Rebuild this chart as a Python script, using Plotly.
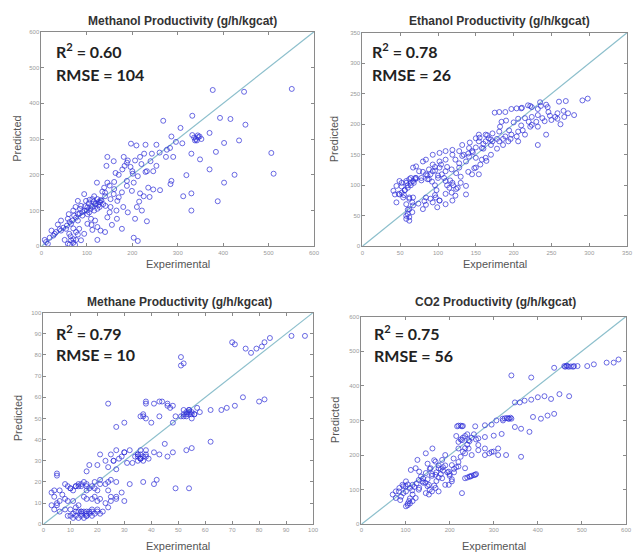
import plotly.graph_objects as go

# ---------------- data ----------------
meoh_exp = [377,446,551,332,393,416,449,306,268,332,348,370,286,253,229,197,209,145,143,384,435,402,349,370,330,506,511,425,402,319,283,290,274,253,232,246,229,188,183,163,188,203,235,246,261,286,284,330,312,388,330,238,217,210,221,232,206,166,177,203,212,123,94,122,145,130,134,159,170,152,145,101,101,112,123,130,80,65,61,65,51,58,36,22,7,14,43,80,87,101,98,112,123,129,138,80,90,72,83,94,87,43,29,58,54,80,76,109,116,123,109,141,152,167,177,199,188,201,196,206,226,243,217,181,159,340,345,338,120,125,115,95,105,70,60,75,85,150,160,140,62,70,110,118]
meoh_pred = [437,432,440,365,359,356,340,331,351,311,307,317,307,284,284,287,282,250,225,264,296,289,243,215,259,261,203,200,178,199,275,250,250,225,210,210,208,234,225,205,183,178,164,159,157,183,174,148,140,126,100,138,148,110,100,70,77,77,49,24,15,18,146,178,178,129,153,146,137,110,81,90,63,46,54,44,90,63,35,17,18,7,61,44,18,7,72,127,113,109,127,132,132,123,164,72,86,86,49,35,17,44,35,77,49,33,18,77,100,105,113,113,132,127,151,155,169,203,222,240,259,259,250,250,238,300,305,296,120,115,125,100,95,100,90,110,105,95,160,140,5,20,60,72]
meoh_exp_dense = [100,108,112,118,126,132,136,128,104,96,90,84,76,68,62,56,48,40,32,26,18,10,70,76,64,70,74,106,116,140,150,160,170,178,190,200,212,220,240,260,276,296,310,336,342,344,352,215,225,180,190,165,155,140]
meoh_pred_dense = [100,104,110,118,124,128,118,110,120,112,96,92,80,72,68,58,52,48,40,30,24,12,50,40,28,10,4,130,140,150,170,180,200,215,240,210,196,230,238,262,270,292,288,304,296,310,300,125,140,110,95,100,60,40]

etoh_exp = [298,291,269,260,243,236,232,219,211,204,197,189,181,175,224,280,272,267,258,250,241,232,224,215,206,200,232,224,243,232,206,189,181,172,163,154,150,163,172,158,145,141,134,128,119,110,119,102,93,84,80,71,67,75,93,102,110,123,137,150,158,150,128,110,102,93,84,71,62,58,49,45,41,43,49,54,45,58,67,62,67,84,97,102,110,119,115,110,123,119,110,102,93,84,80,67,62,60,58,62,66,99,137,137,145,154,163,141,132,154,167,181,193,215,206,197,184,88,90,60,56,52,100,105,96,86,78,64,70,128,132,140,146,160,170,178,186,194,210,220,246,255,262,112,118,124]
etoh_pred = [242,239,238,237,232,230,225,231,227,226,225,220,220,219,228,215,218,212,209,207,205,215,212,210,209,203,196,199,183,166,172,180,188,185,183,183,177,172,172,161,156,147,150,156,158,156,150,153,150,142,139,131,129,123,134,139,142,142,139,145,142,129,129,123,129,123,118,112,110,107,107,99,91,85,85,80,72,69,107,80,80,80,80,75,86,75,96,69,83,104,107,75,72,68,61,67,61,53,45,48,56,64,99,85,118,118,145,161,166,172,177,172,172,183,188,183,204,110,118,100,92,104,112,118,124,116,108,104,112,136,148,152,154,160,166,176,176,190,198,204,220,212,200,100,88,94]
etoh_exp_dense = [52,56,48,60,64,68,58,52,55,62,66,74,82,90,96,98,96,92,86,78,70,64,80,88,96,104,112,118,124,130,100,108,116,120,126,130,140,148,156,164,170,178,186,196,204,212,222,230,238,248,258,266,150,160,170,142,155,165,210,222,235,245,182,190,60,58,62]
etoh_pred_dense = [88,92,86,96,100,104,104,98,84,78,72,70,74,78,84,92,100,106,110,112,110,112,122,126,130,134,130,126,120,114,116,112,108,100,96,104,122,128,134,140,150,160,166,176,180,190,196,204,210,214,218,222,162,168,175,170,178,182,226,230,236,228,196,206,60,50,42]

ch4_exp = [97,92,84,82,81,79,77,75,71,70,51,52,51,82,80,74,71,68,66,62,58,57,55,54,52,51,55,49,48,46,44,43,41,38,37,38,40,43,30,27,24,62,55,53,45,48,46,43,41,38,36,35,36,38,32,30,27,25,21,23,26,31,33,27,24,20,17,16,42,41,37,49,54,32,27,24,21,19,16,14,13,10,9,6,3,5,5,24,20,16,11,15,19,21,25,27,29,30,11,9,6,4,3,5,8,10,13,15,17,20,9,11,14,16,19,21,13,6,4,12,14,16,18,12,10,8,36,35,34,53,54,56]
ch4_pred = [89,89,88,86,84,83,81,83,85,86,79,76,75,59,58,60,56,55,54,54,53,55,52,54,51,51,50,51,48,56,58,58,57,57,51,50,48,51,48,46,57,39,36,35,38,34,32,33,34,32,31,33,35,35,35,34,35,33,33,30,30,29,29,26,27,28,28,25,21,19,20,17,17,19,20,20,21,20,19,19,18,17,18,16,15,23,24,16,16,16,16,13,13,12,13,13,15,11,11,11,11,13,9,9,7,7,6,6,6,7,4,5,5,5,5,5,9,6,7,8,6,4,7,18,17,19,31,33,32,52,53,52]
ch4_exp_dense = [10,12,14,16,18,12,14,16,18,20,11,13,15,17,22,24,23,25,27,12,14,16,18,13,15,17,19,21,23,25,16,18,20,35,36,37,38,36,35,37,39,52,53,54,55,53,54,52,56,26,28,29,30,36,37,38,46,47,48,8,7,5,4]
ch4_pred_dense = [4,4,4,4,4,6,6,6,6,6,3,3,3,5,6,8,10,11,12,18,18,18,18,19,20,17,17,19,19,21,12,12,11,30,31,32,33,33,32,30,31,52,53,52,53,51,54,54,52,30,31,32,34,51,52,58,57,55,56,12,14,10,16]

co2_exp = [583,572,556,527,512,490,482,467,460,437,340,385,471,449,430,415,400,385,370,359,348,437,422,407,389,381,362,348,340,333,321,306,295,280,258,228,217,318,300,280,265,243,228,220,280,265,295,310,328,362,250,235,209,205,220,235,258,247,235,228,198,183,168,157,168,183,190,161,146,127,123,112,131,146,138,153,168,131,116,101,93,86,78,71,101,116,108,101,116,123,146,153,175,190,205,198,78,175,220,243,265,105,110,95,130,140,150,160,170,180,190,200,210,88]
co2_pred = [476,467,467,462,457,457,457,457,457,452,430,424,370,376,362,370,367,360,357,352,352,319,314,305,310,267,276,281,305,305,300,300,288,286,283,283,283,261,256,252,248,243,243,238,219,214,209,219,200,195,200,205,190,171,167,162,143,138,133,90,152,133,143,162,181,186,200,219,205,186,162,157,152,148,124,114,105,105,114,124,114,105,95,86,95,86,67,52,67,76,90,86,95,114,124,114,76,162,219,219,229,60,75,110,100,120,130,140,150,160,170,145,160,70]
co2_exp_dense = [100,105,110,115,120,125,130,135,140,145,150,155,160,165,170,175,180,185,160,155,150,165,175,185,195,200,205,210,215,220,225,230,235,240,245,250,255,260,225,230,235,240,215,220,225,230,320,325,330,335,338,462,465,470,475,480,250,255,260,245,240,280,290,300,310,90,95,85,110,105]
co2_pred_dense = [110,115,105,98,108,118,128,138,132,120,110,100,95,112,125,135,145,155,145,160,175,185,170,165,150,140,130,150,165,180,195,210,220,230,240,250,260,245,245,250,255,260,255,285,285,284,305,306,307,305,308,455,458,455,456,455,140,142,145,138,135,200,205,210,200,80,90,95,60,55]

panel_titles = ["Methanol Productivity (g/h/kgcat)", "Ethanol Productivity (g/h/kgcat)",
                "Methane Productivity (g/h/kgcat)", "CO2 Productivity (g/h/kgcat)"]
r2_labels = ["0.60", "0.78", "0.79", "0.75"]
rmse_labels = ["104", "26", "10", "56"]
axis_max = [600, 350, 100, 600]
axis_dtick = [100, 50, 10, 100]

# ---------------- layout helpers ----------------
W, H = 636, 554
def px(x):
    return x / W
def py(y):
    return 1 - y / H

boxes = [(40, 316, 29, 246), (365, 633, 30, 246), (42, 315, 313, 527), (364, 632, 317, 527)]
title_pos = [(183, 18), (504, 18), (180, 302), (500, 302)]
stat_pos = [(53, 48, 72), (373, 48, 72), (53, 333, 355), (375, 333, 356)]
xlab_y = [264, 264, 549, 549]
ylab_x = [15, 336, 17, 338]

series = [(meoh_exp + meoh_exp_dense, meoh_pred + meoh_pred_dense),
          (etoh_exp + etoh_exp_dense, etoh_pred + etoh_pred_dense),
          (ch4_exp + ch4_exp_dense, ch4_pred + ch4_pred_dense),
          (co2_exp + co2_exp_dense, co2_pred + co2_pred_dense)]

fig = go.Figure()
annotations = []
frame_col = "#8a8a8a"
for i in range(4):
    xa = "x" if i == 0 else f"x{i+1}"
    ya = "y" if i == 0 else f"y{i+1}"
    ex, pr = series[i]
    m = axis_max[i]
    fig.add_trace(go.Scatter(x=[0, m], y=[0, m], mode="lines",
                             line=dict(color="#8cbfcc", width=1.2),
                             xaxis=xa, yaxis=ya, showlegend=False, hoverinfo="skip"))
    fig.add_trace(go.Scatter(x=ex, y=pr, mode="markers",
                             marker=dict(symbol="circle-open", size=5,
                                         color="rgba(45,45,215,0.7)", line=dict(width=1)),
                             xaxis=xa, yaxis=ya, showlegend=False))
    l, r, t, b = boxes[i]
    axcommon = dict(range=[0, m], dtick=axis_dtick[i], tick0=0, showgrid=False, zeroline=False,
                    showline=True, linecolor=frame_col, linewidth=1, mirror="ticks",
                    ticks="inside", ticklen=3, tickcolor=frame_col,
                    tickfont=dict(size=6, color="#9a9a9a", family="Liberation Sans"))
    xkey = "xaxis" if i == 0 else f"xaxis{i+1}"
    ykey = "yaxis" if i == 0 else f"yaxis{i+1}"
    fig.update_layout({
        xkey: dict(domain=[px(l), px(r)], anchor=ya, **axcommon),
        ykey: dict(domain=[py(b), py(t)], anchor=xa, **axcommon),
    })
    tx, ty = title_pos[i]
    annotations.append(dict(text=f"<b>{panel_titles[i]}</b>", x=px(tx), y=py(ty), xref="paper", yref="paper",
                            showarrow=False, xanchor="center", yanchor="middle",
                            font=dict(size=12, color="#333", family="Liberation Sans")))
    sx, sy1, sy2 = stat_pos[i]
    annotations.append(dict(text=f"<b>R<sup>2</sup> = {r2_labels[i]}</b>", x=px(sx), y=py(sy1),
                            xref="paper", yref="paper", showarrow=False, xanchor="left", yanchor="middle",
                            font=dict(size=16, color="#222", family="Lato")))
    annotations.append(dict(text=f"<b>RMSE = {rmse_labels[i]}</b>", x=px(sx), y=py(sy2),
                            xref="paper", yref="paper", showarrow=False, xanchor="left", yanchor="middle",
                            font=dict(size=16, color="#222", family="Lato")))
    annotations.append(dict(text="Experimental", x=px((l + r) / 2), y=py(xlab_y[i]), xref="paper", yref="paper",
                            showarrow=False, xanchor="center", yanchor="middle",
                            font=dict(size=11, color="#555", family="Liberation Sans")))
    annotations.append(dict(text="Predicted", x=px(ylab_x[i]), y=py((t + b) / 2), xref="paper", yref="paper",
                            showarrow=False, xanchor="center", yanchor="middle", textangle=-90,
                            font=dict(size=11, color="#555", family="Liberation Sans")))

fig.update_layout(width=W, height=H, margin=dict(l=0, r=0, t=0, b=0),
                  paper_bgcolor="white", plot_bgcolor="white", annotations=annotations,
                  showlegend=False)
fig.write_html("out.html")
